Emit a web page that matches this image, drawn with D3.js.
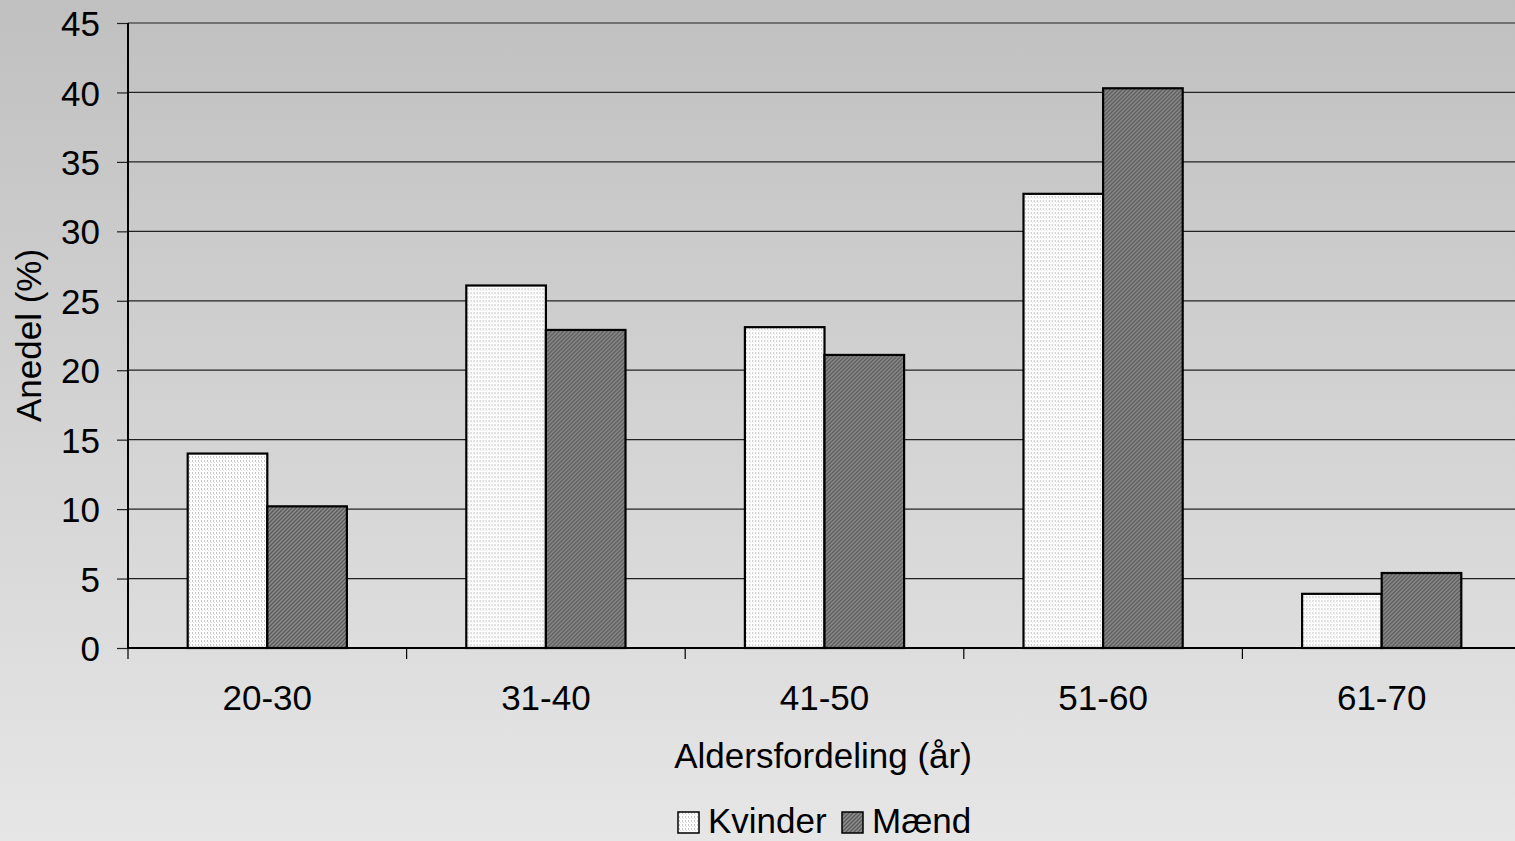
<!DOCTYPE html>
<html><head><meta charset="utf-8">
<script src="https://cdn.jsdelivr.net/npm/d3@7"></script>
<style>html,body{margin:0;padding:0;overflow:hidden;}svg{display:block;}</style>
</head><body>
<svg id="c" width="1515" height="841"></svg>
<script>
const categories = ["20-30","31-40","41-50","51-60","61-70"];
const seriesNames = ["Kvinder","Mænd"];
const kvinder = [14.0, 26.1, 23.1, 32.7, 3.9];
const maend = [10.2, 22.9, 21.1, 40.3, 5.4];
const yTicks = [0,5,10,15,20,25,30,35,40,45];
const xTitle = "Aldersfordeling (år)";
const yTitle = "Anedel (%)";

(function(){
const W = 1515, H = 841;
const svg = d3.select("#c");
const font = "'Liberation Sans', Arial, sans-serif";
const defs = svg.append("defs");

const grad = defs.append("linearGradient").attr("id","bg").attr("x1",0).attr("y1",0).attr("x2",0).attr("y2",1);
grad.append("stop").attr("offset","0%").attr("stop-color","#c0c0c0");
grad.append("stop").attr("offset","100%").attr("stop-color","#e6e6e6");

// patterns
const pK = defs.append("pattern").attr("id","pK").attr("patternUnits","userSpaceOnUse").attr("width",3).attr("height",4);
pK.append("rect").attr("width",3).attr("height",4).attr("fill","#ffffff");
pK.append("rect").attr("x",1).attr("y",0).attr("width",1).attr("height",2).attr("fill","#c8c8c8");
pK.append("rect").attr("x",2).attr("y",2).attr("width",1).attr("height",1).attr("fill","#e4e4e4");
const pM = defs.append("pattern").attr("id","pM").attr("patternUnits","userSpaceOnUse").attr("width",4).attr("height",4);
pM.append("rect").attr("width",4).attr("height",4).attr("fill","#8c8c8c");
pM.append("path").attr("d","M0,4 L4,0 M-1,1 L1,-1 M3,5 L5,3").attr("stroke","#5a5a5a").attr("stroke-width",1.3);

svg.append("rect").attr("width",W).attr("height",H).attr("fill","url(#bg)");

const mLeft = 128, mTop = 23, mBottom = 648;
const step = 278.6;
const x0 = d3.scaleBand().domain(categories).range([mLeft, mLeft + step*categories.length]).padding(0);
const x1 = d3.scaleBand().domain(seriesNames).range([0, x0.bandwidth()]).paddingInner(0).paddingOuter(0.75);
const y = d3.scaleLinear().domain([0,45]).range([mBottom, mTop]);

// gridlines
svg.append("g").selectAll("line").data(yTicks.filter(d=>d>0)).join("line")
  .attr("x1", mLeft).attr("x2", W).attr("y1", d=>y(d)).attr("y2", d=>y(d))
  .attr("stroke","#222").attr("stroke-width",1.2);

// y axis
const yAxis = d3.axisLeft(y).tickValues(yTicks).tickSize(11).tickPadding(17).tickFormat(d3.format("d"));
const ga = svg.append("g").attr("transform",`translate(${mLeft},0)`).call(yAxis);
ga.select(".domain").remove();
ga.selectAll(".tick line").attr("stroke","#222").attr("stroke-width",1.2);
ga.selectAll(".tick text").attr("font-family",font).attr("font-size",35).attr("fill","#000").attr("dy","0.36em");
svg.append("line").attr("x1",mLeft).attr("x2",mLeft).attr("y1",mTop).attr("y2",mBottom).attr("stroke","#000").attr("stroke-width",2);

// bars
const data = categories.map((c,i)=>({c, vals:[{s:"Kvinder",v:kvinder[i]},{s:"Mænd",v:maend[i]}]}));
const groups = svg.append("g").selectAll("g").data(data).join("g").attr("transform",d=>`translate(${x0(d.c)},0)`);
groups.selectAll("rect").data(d=>d.vals).join("rect")
  .attr("x", d=>x1(d.s)).attr("width", x1.bandwidth())
  .attr("y", d=>y(d.v)).attr("height", d=>y(0)-y(d.v))
  .attr("fill", d=>d.s==="Kvinder"?"url(#pK)":"url(#pM)")
  .attr("stroke","#000").attr("stroke-width",2.2);

// x axis
svg.append("line").attr("x1",mLeft).attr("x2",W).attr("y1",mBottom).attr("y2",mBottom).attr("stroke","#000").attr("stroke-width",2);
const bounds = categories.map(c=>x0(c)).concat([x0(categories[categories.length-1]) + x0.bandwidth()]);
svg.append("g").selectAll("line").data(bounds).join("line")
  .attr("x1",d=>d).attr("x2",d=>d).attr("y1",mBottom).attr("y2",mBottom+11)
  .attr("stroke","#000").attr("stroke-width",1.2);
const xAxis = d3.axisBottom(x0).tickSize(0).tickPadding(0);
const gx = svg.append("g").attr("transform",`translate(0,${mBottom})`).call(xAxis);
gx.select(".domain").remove();
gx.selectAll(".tick text").attr("font-family",font).attr("font-size",35).attr("fill","#000").attr("y",62).attr("dy",0);

// titles
svg.append("text").attr("x",823).attr("y",768).attr("text-anchor","middle")
  .attr("font-family",font).attr("font-size",35).attr("fill","#000").text(xTitle);
svg.append("text").attr("transform",`translate(41,${(mTop+mBottom)/2}) rotate(-90)`).attr("text-anchor","middle")
  .attr("font-family",font).attr("font-size",35).attr("fill","#000").text(yTitle);

// legend
const legendX = [678, 842];
const leg = svg.append("g").selectAll("g").data(seriesNames).join("g").attr("transform",(d,i)=>`translate(${legendX[i]},812)`);
leg.append("rect").attr("width",21).attr("height",21).attr("fill",d=>d==="Kvinder"?"url(#pK)":"url(#pM)").attr("stroke","#000").attr("stroke-width",1.5);
leg.append("text").attr("x",30).attr("y",21).attr("font-family",font).attr("font-size",35).attr("fill","#000").text(d=>d);
})();
</script>
</body></html>
